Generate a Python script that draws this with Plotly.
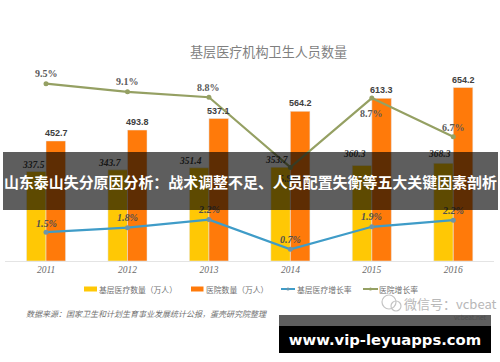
import plotly.graph_objects as go

W, H = 500, 362
years = ["2011", "2012", "2013", "2014", "2015", "2016"]
primary_care_staff = [337.5, 343.7, 351.4, 353.7, 360.3, 368.3]
hospital_staff = [452.7, 493.8, 537.1, 564.2, 613.3, 654.2]
primary_care_growth_labels = ["1.5%", "1.8%", "2.2%", "0.7%", "1.9%", "2.2%"]
hospital_growth_labels = ["9.5%", "9.1%", "8.8%", "5.9%", "8.7%", "6.7%"]
# the drawn heights of the two lines
primary_care_growth = [1.6, 1.85, 2.3, 0.65, 1.9, 2.27]
hospital_growth = [9.85, 9.4, 9.1, 5.2, 9.05, 6.9]
legend_names = ["基层医疗数量（万人）", "医院数量（万人）", "基层医疗增长率", "医院增长率"]

YELLOW, ORANGE, BLUE, GREEN = "#FFC805", "#FF7A0A", "#3F9CC8", "#95A063"
CJK = "Noto Sans CJK SC"
SERIF = "Liberation Serif"
BAND = "rgba(0,0,0,0.63)"

left, right, bottom, top = 5.3, 494, 261, 60
dom_x = [left / W, right / W]
dom_y = [(H - bottom) / H, (H - top) / H]
y_max = (bottom - top) / 0.2652
y2_max = (bottom - top) / 18.0

fig = go.Figure()
fig.add_bar(x=years, y=primary_care_staff, name=legend_names[0], marker_color=YELLOW)
fig.add_bar(x=years, y=hospital_staff, name=legend_names[1], marker_color=ORANGE)
fig.add_scatter(x=years, y=primary_care_growth, name=legend_names[2], yaxis="y2", mode="lines+markers",
                line=dict(color=BLUE, width=2.2), marker=dict(size=5, color="#6E94A8"))
fig.add_scatter(x=years, y=hospital_growth, name=legend_names[3], yaxis="y2", mode="lines+markers",
                line=dict(color=GREEN, width=2.2), marker=dict(size=5, color=GREEN))

ann = []
shapes = []


def label(i, y, text, yref, dx, dy, size, color, family=SERIF, bold=False, italic=False):
    ann.append(dict(x=i, y=y, xref="x", yref=yref, xshift=dx, yshift=dy, showarrow=False,
                    text=f"<b>{text}</b>" if bold else text,
                    font=dict(family=family, size=size, color=color, style="italic" if italic else "normal")))


for i, v in enumerate(hospital_staff):
    label(i, v, f"{v}", "y", 10, 8, 9, "#404040", family="Liberation Sans", bold=True)

for i, (v, dx, dy) in enumerate(zip(primary_care_staff, [-13, -17, -18, -13, -17, -14], [7, 7, 7, 7, 11, 9])):
    label(i, v, f"{v}", "y", dx, dy, 9.5, "#404040", italic=True, bold=True)

for i, (v, t, dy) in enumerate(zip(hospital_growth, hospital_growth_labels, [10, 10, 10, -11, -15, 9])):
    label(i, v, t, "y2", 0, dy, 10, "#5A5A5A", bold=True)

for i, (v, t, dy) in enumerate(zip(primary_care_growth, primary_care_growth_labels, [9, 10, 10, 10, 10, 10])):
    label(i, v, t, "y2", 0, dy, 10, "#505050", italic=True, bold=True)


def paper(px, py, text, size, color, family=CJK, anchor="center", **kw):
    ann.append(dict(x=px / W, y=1 - py / H, xref="paper", yref="paper", text=text, showarrow=False,
                    xanchor=anchor, yanchor="middle", font=dict(family=family, size=size, color=color, **kw)))


def rect(x0, y0, x1, y1, fill):
    shapes.append(dict(type="rect", xref="paper", yref="paper", x0=x0 / W, x1=x1 / W, y0=1 - y0 / H, y1=1 - y1 / H,
                       fillcolor=fill, line_width=0))


def ring(cx, cy, r, color):
    shapes.append(dict(type="circle", xref="paper", yref="paper", x0=(cx - r) / W, x1=(cx + r) / W,
                       y0=1 - (cy + r) / H, y1=1 - (cy - r) / H, line=dict(color=color, width=1.2)))


# hand-placed legend, because the native one cannot give these short keys
rect(84, 286.5, 97, 291.5, YELLOW)
paper(97, 289, legend_names[0], 7.8, "#707070", anchor="left")
rect(191, 286.5, 203.5, 291.5, ORANGE)
paper(204, 289, legend_names[1], 7.8, "#707070", anchor="left")
rect(281, 288, 295, 290, BLUE)
ring(288, 289, 1, "#6E94A8")
paper(295, 289, legend_names[2], 7.8, "#707070", anchor="left")
rect(363, 288, 378, 290, GREEN)
ring(370.5, 289, 1, GREEN)
paper(377, 289, legend_names[3], 7.8, "#707070", anchor="left")

paper(268, 52, "基层医疗机构卫生人员数量", 13.1, "#7F7F7F")
paper(24, 313, "数据来源：国家卫生和计划生育事业发展统计公报，蛋壳研究院整理", 8, "#707070", anchor="left", style="italic")
ring(389, 302, 7, "#C4C4C4")
ring(396, 306, 5, "#C4C4C4")
paper(402, 303, "微信号：vcbeat", 13, "#B8B8B8", anchor="left")
paper(470, 317, "vcbeat.net", 6.5, "#D4D4D4")


def box(x0, y0, x1, y1, fill, text="", size=15, family=CJK):
    ann.append(dict(x=x0 / W, y=1 - y0 / H, xref="paper", yref="paper", xanchor="left", yanchor="top",
                    width=x1 - x0, height=y1 - y0, bgcolor=fill, borderpad=0, borderwidth=0, showarrow=False,
                    align="center", valign="middle", text=text or " ",
                    font=dict(family=family, size=size, color="#FFFFFF")))


box(3, 152, 498, 210, BAND, "<b>山东泰山失分原因分析：战术调整不足、人员配置失衡等五大关键因素剖析</b>", 14.95)
box(279, 315, 491, 326, BAND)
box(279, 326, 491, 353, "#000000", "<b>www.vip-leyuapps.com</b>", 14.8, "DejaVu Sans")

fig.update_layout(
    width=W, height=H, margin=dict(l=0, r=0, t=0, b=0), paper_bgcolor="#FFFFFF", plot_bgcolor="#FFFFFF",
    barmode="group", bargap=0.52, bargroupgap=0,
    xaxis=dict(domain=dom_x, type="category", categoryorder="array", categoryarray=years, range=[-0.5, 5.5],
               showgrid=False, showline=True, linecolor="#E4E4E4", linewidth=1, ticks="",
               tickfont=dict(family=SERIF, size=9.5, color="#6A6A6A", style="italic")),
    yaxis=dict(domain=dom_y, range=[0, y_max], visible=False),
    yaxis2=dict(domain=dom_y, range=[0, y2_max], overlaying="y", visible=False),
    annotations=ann, shapes=shapes, showlegend=False, font=dict(family=CJK),
)
fig.write_html("out.html", config=dict(displayModeBar=False),
               post_script="document.body.style.margin='0';document.body.style.overflow='hidden';")
